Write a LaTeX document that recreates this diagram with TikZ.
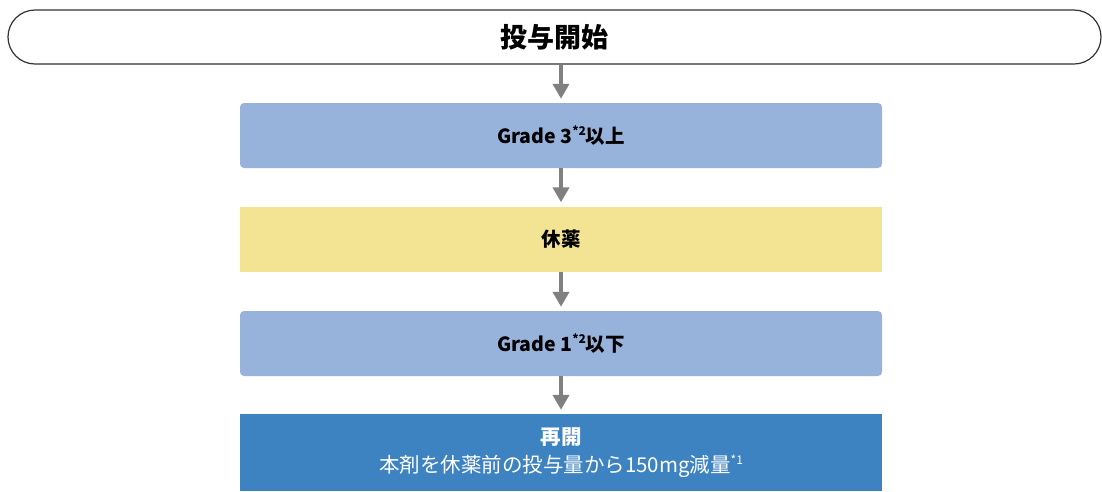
\documentclass[tikz,border=0pt]{standalone}
\usepackage{fontspec}
\setmainfont{Noto Sans CJK JP}
\usetikzlibrary{arrows.meta}
\definecolor{gradeblue}{HTML}{98B3DB}
\definecolor{restyellow}{HTML}{F3E494}
\definecolor{restartblue}{HTML}{3D82C1}
\definecolor{arrgray}{HTML}{808080}
\newcommand{\supnote}[1]{\raisebox{0.38em}{\fontsize{12}{12}\selectfont #1}}
\tikzset{
  stepbox/.style={minimum width=642pt, minimum height=65pt, inner sep=0pt,
    align=center, font=\fontsize{19.5}{23}\selectfont\bfseries},
  arr/.style={draw=arrgray, line width=4.5pt,
    -{Triangle[width=16pt,length=15pt]}, shorten >=4pt}
}
\begin{document}
\begin{tikzpicture}[x=1pt,y=-1pt]
        \useasboundingbox (0,0) rectangle (1102,491);
        \node[draw=black!80, line width=1.2pt, rounded corners=27pt, minimum width=1093pt,
          minimum height=54pt, inner sep=0pt, font=\fontsize{27}{30}\selectfont\bfseries]
          (start) at (554.5,37) {投与開始};
        \node[stepbox, fill=gradeblue, rounded corners=4pt] (g3) at (561,135.5) {Grade 3\supnote{*2}以上};
        \node[stepbox, fill=restyellow] (rest) at (561,239) {休薬};
        \node[stepbox, fill=gradeblue, rounded corners=4pt] (g1) at (561,343.5) {Grade 1\supnote{*2}以下};
        \node[stepbox, fill=restartblue, text=white, minimum height=77pt,
          font=\fontsize{20.5}{28}\selectfont] (restart) at (561,452.5)
          {\textbf{再開}\\本剤を休薬前の投与量から150mg減量\supnote{*1}};
        \draw[arr] (g3.north |- start.south) -- (g3.north);
        \draw[arr] (g3.south) -- (rest.north);
        \draw[arr] (rest.south) -- (g1.north);
        \draw[arr] (g1.south) -- (restart.north);
\end{tikzpicture}
\end{document}
